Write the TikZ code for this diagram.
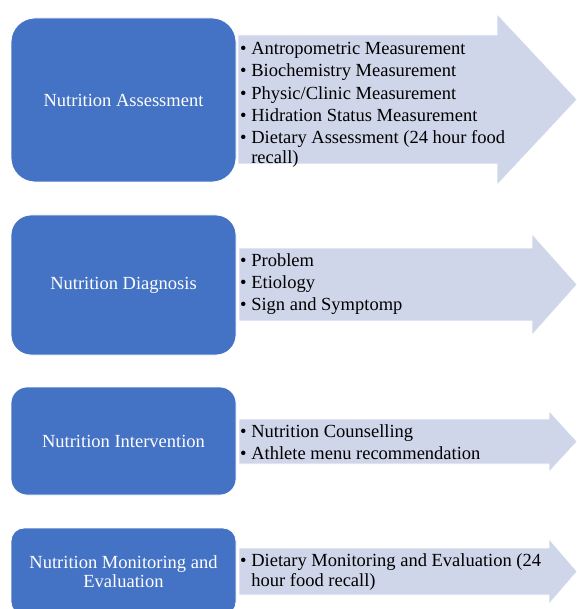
\documentclass[tikz,border=0pt]{standalone}
\usepackage{fontspec}
\setmainfont{Liberation Serif}
\usepackage{tikz}
\usetikzlibrary{positioning}
\usepackage{xcolor}
\definecolor{stepblue}{RGB}{68,114,196}
\definecolor{steplight}{RGB}{208,214,234}
\tikzset{
  stepbox/.style={
    draw=white,
    rectangle,
    minimum width=225pt,
    inner sep=4pt,
    line width=0.8pt,
    fill=stepblue,
    text=white,
    align=center,
    font=\fontsize{18.5}{19.5}\selectfont,
  },
  steparrow/.style={fill=steplight, draw=white, line width=0.6pt},
  itemlist/.style={
    anchor=west,
    inner sep=0pt,
    align=left,
    font=\fontsize{18.5}{20}\selectfont,
  },
}

\begin{document}
\begin{tikzpicture}[x=1pt, y=-1pt]
  \useasboundingbox (0,0) rectangle (576,609);
  \clip (0,0) rectangle (576,609);

  % arrows
  \fill[steparrow] (238,35) -- (497,35) -- (497,14) -- (577,99.5)
    -- (497,185) -- (497,164) -- (238,164) -- cycle;
  \fill[steparrow] (239,248) -- (532,248) -- (532,234) -- (577,284.5)
    -- (532,335) -- (532,321) -- (239,321) -- cycle;
  \fill[steparrow] (239,419) -- (549,419) -- (549,411) -- (577,441.5)
    -- (549,472) -- (549,464) -- (239,464) -- cycle;
  \fill[steparrow] (239,548) -- (549,548) -- (549,539) -- (577,571.5)
    -- (549,604) -- (549,595) -- (239,595) -- cycle;

  % boxes
  \node[stepbox, minimum height=164pt, rounded corners=24pt] (assess) at (123.5,100) {Nutrition Assessment};
  \node[stepbox, minimum height=140pt, rounded corners=20pt] (diag) at (123.5,285) {Nutrition Diagnosis};
  \node[stepbox, minimum height=108pt, rounded corners=16pt] (interv) at (123.5,441) {Nutrition Intervention};
  \node[stepbox, minimum height=87pt, rounded corners=13pt] (monit) at (123.5,571.5) {Nutrition Monitoring and\\Evaluation};

  % lists
  \node[itemlist] (assessitems) at (240,105) {%
    \textbullet\ Antropometric Measurement\\[2.3pt]
    \textbullet\ Biochemistry Measurement\\[2.3pt]
    \textbullet\ Physic/Clinic Measurement\\[2.3pt]
    \textbullet\ Hidration Status Measurement\\[2.3pt]
    \textbullet\ Dietary Assessment (24 hour food\\
    \phantom{\textbullet\ }recall)};
  \node[itemlist] (diagitems) at (240,284) {%
    \textbullet\ Problem\\[2.3pt]
    \textbullet\ Etiology\\[2.3pt]
    \textbullet\ Sign and Symptomp};
  \node[itemlist] (intervitems) at (240,442) {%
    \textbullet\ Nutrition Counselling\\[2.3pt]
    \textbullet\ Athlete menu recommendation};
  \node[itemlist] (monititems) at (240,572) {%
    \textbullet\ Dietary Monitoring and Evaluation (24\\
    \phantom{\textbullet\ }hour food recall)};
\end{tikzpicture}
\end{document}
